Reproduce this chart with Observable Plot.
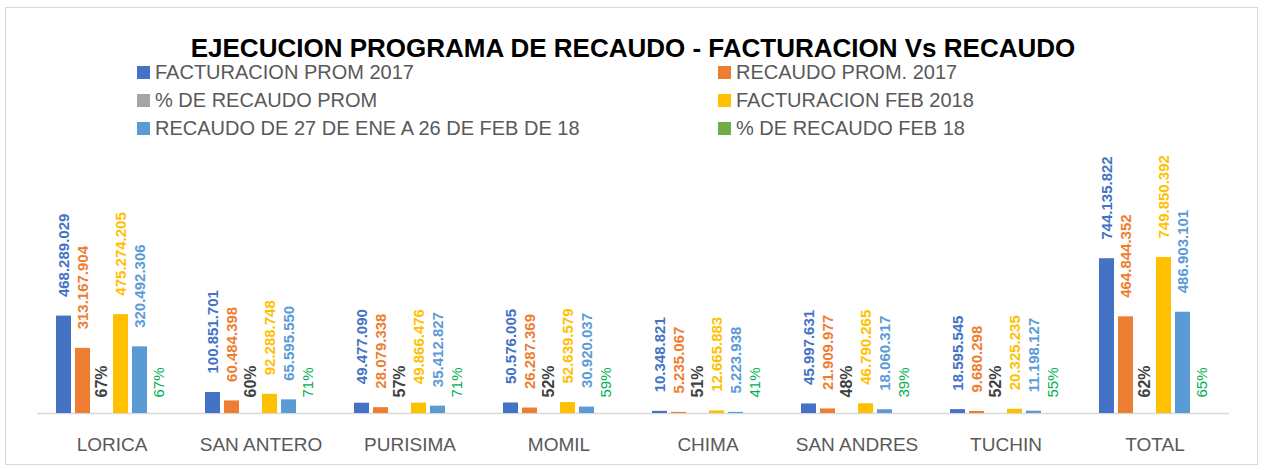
<!DOCTYPE html>
<html>
<head>
<meta charset="utf-8">
<script src="https://cdn.jsdelivr.net/npm/d3@7"></script>
<script src="https://cdn.jsdelivr.net/npm/@observablehq/plot@0.6"></script>
<style>
  html, body { margin: 0; padding: 0; background: #fff; }
  #wrap { position: relative; width: 1266px; height: 470px; font-family: "Liberation Sans", Arial, sans-serif; overflow: hidden; }
  #frame { position: absolute; left: 5px; top: 7px; width: 1253px; height: 458px; border: 1px solid #d9d9d9; box-sizing: border-box; }
  #title { position: absolute; left: 0; width: 1266px; top: 35px; text-align: center; font-weight: bold; font-size: 26px; line-height: 26px; color: #000; white-space: nowrap; }
  .leg { position: absolute; font-size: 20px; line-height: 20px; color: #595959; white-space: nowrap; }
  .sw { position: absolute; width: 13px; height: 13px; }
  #chart { position: absolute; left: 0; top: 0; }
</style>
</head>
<body>
<div id="wrap">
  <div id="frame"></div>
  <div id="chart"></div>
  <div id="title">EJECUCION PROGRAMA DE RECAUDO - FACTURACION Vs RECAUDO</div>
</div>
<script>
const categories = ["LORICA", "SAN ANTERO", "PURISIMA", "MOMIL", "CHIMA", "SAN ANDRES", "TUCHIN", "TOTAL"];
const seriesNames = ["FACTURACION PROM 2017", "RECAUDO PROM. 2017", "% DE RECAUDO PROM", "FACTURACION FEB 2018", "RECAUDO DE 27 DE ENE A 26 DE FEB DE 18", "% DE RECAUDO FEB 18"];
const seriesColors = ["#4472C4", "#ED7D31", "#A5A5A5", "#FFC000", "#5B9BD5", "#70AD47"];

const factProm2017 = [468289029, 100851701, 49477090, 50576005, 10348821, 45997631, 18595545, 744135822];
const recProm2017  = [313167904, 60484398, 28079338, 26287369, 5235067, 21909977, 9680298, 464844352];
const pctProm      = [0.67, 0.60, 0.57, 0.52, 0.51, 0.48, 0.52, 0.62];
const factFeb2018  = [475274205, 92288748, 49866476, 52639579, 12665883, 46790265, 20325235, 749850392];
const recFeb2018   = [320492306, 65595550, 35412827, 30920037, 5223938, 18060317, 11198127, 486903101];
const pctFeb2018   = [0.67, 0.71, 0.71, 0.59, 0.41, 0.39, 0.55, 0.65];

const allSeries = [factProm2017, recProm2017, pctProm, factFeb2018, recFeb2018, pctFeb2018];
const isPct = [false, false, true, false, false, true];

const fmtNum = d3.formatLocale({decimal: ",", thousands: ".", grouping: [3], currency: ["$", ""]}).format(",");
const fmtPct = d3.format(".0%");

const rows = [];
categories.forEach((c, i) => {
  allSeries.forEach((arr, s) => {
    rows.push({cat: c, series: seriesNames[s], value: arr[i], pct: isPct[s], sIdx: s,
      label: isPct[s] ? fmtPct(arr[i]) : fmtNum(arr[i])});
  });
});
const moneyRows = rows.filter(d => !d.pct);
const pctPromRows = rows.filter(d => d.sIdx === 2);
const pctFebRows = rows.filter(d => d.sIdx === 5);

const chart = Plot.plot({
  width: 1266,
  height: 470,
  marginTop: 205,
  marginBottom: 57,
  marginLeft: 35,
  marginRight: 35,
  style: {fontFamily: "'Liberation Sans', Arial, sans-serif", fontSize: "19px", color: "#595959", background: "transparent", overflow: "visible"},
  fx: {domain: categories, padding: 0, axis: "bottom", label: null, tickSize: 0, tickPadding: 24},
  x: {domain: seriesNames, paddingInner: 0.2, paddingOuter: 0.8375, axis: null},
  y: {domain: [0, 1e9], axis: null},
  color: {domain: seriesNames, range: seriesColors},
  marks: [
    Plot.ruleY([0], {stroke: "#d9d9d9", strokeWidth: 1.5}),
    Plot.barY(rows, {fx: "cat", x: "series", y: "value", fill: "series"}),
    Plot.text(moneyRows, {fx: "cat", x: "series", y: "value", text: "label", fill: "series",
      rotate: -90, textAnchor: "start", dy: -19, fontSize: 15, fontWeight: "bold"}),
    Plot.text(pctPromRows, {fx: "cat", x: "series", y: "value", text: "label", fill: "#404040",
      rotate: -90, textAnchor: "start", dy: -16, fontSize: 16, fontWeight: "bold"}),
    Plot.text(pctFebRows, {fx: "cat", x: "series", y: "value", text: "label", fill: "#00B050",
      rotate: -90, textAnchor: "start", dy: -16, fontSize: 15})
  ]
});
document.getElementById("chart").appendChild(chart);

// Legend
const wrap = document.getElementById("wrap");
const legendCols = [[0, 2, 4], [1, 3, 5]];
const colX = [137, 718];
const rowY = [72, 100, 128];
legendCols.forEach((col, ci) => {
  col.forEach((s, ri) => {
    const sw = document.createElement("div");
    sw.className = "sw";
    sw.style.left = colX[ci] + "px";
    sw.style.top = (rowY[ri] - 6.5) + "px";
    sw.style.background = seriesColors[s];
    wrap.appendChild(sw);
    const t = document.createElement("div");
    t.className = "leg";
    t.style.left = (colX[ci] + 18) + "px";
    t.style.top = (rowY[ri] - 10) + "px";
    t.textContent = seriesNames[s];
    wrap.appendChild(t);
  });
});
</script>
</body>
</html>
